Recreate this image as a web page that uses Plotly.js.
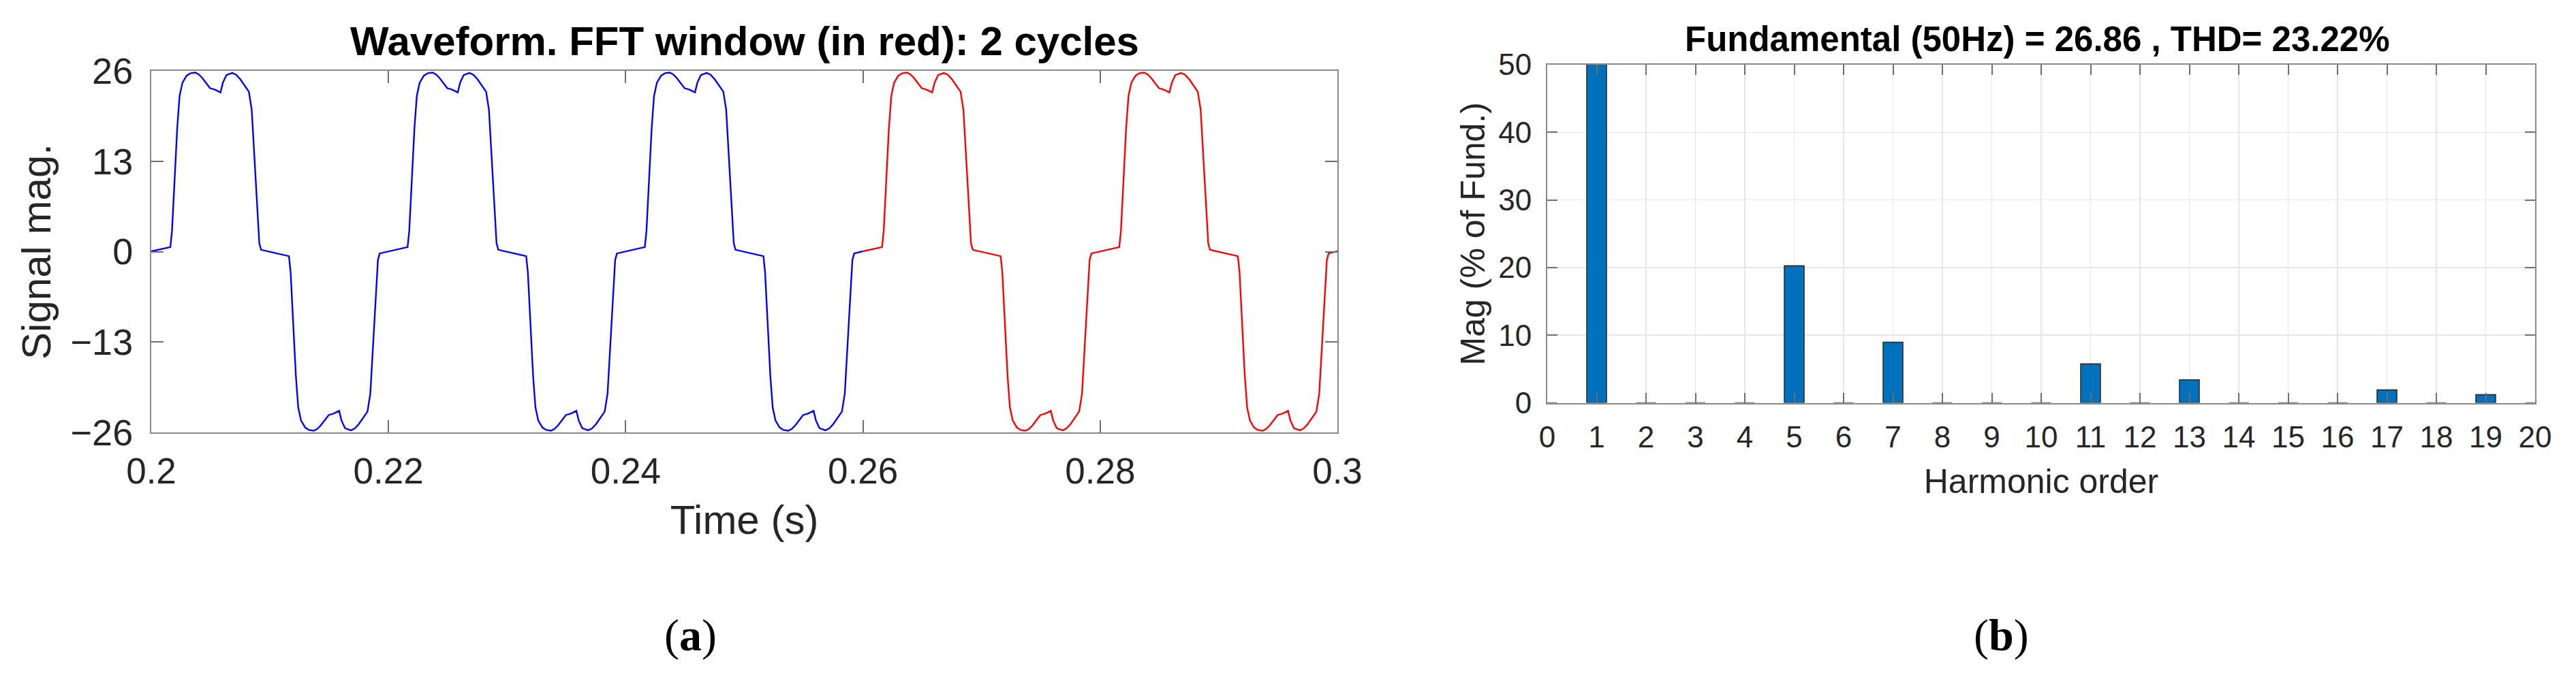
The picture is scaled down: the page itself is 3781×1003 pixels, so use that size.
<!DOCTYPE html>
<html>
<head>
<meta charset="utf-8">
<script src="https://cdn.plot.ly/plotly-3.0.1.min.js"></script>
<style>
html,body{margin:0;padding:0;background:#ffffff;}
#chart{width:3781px;height:1003px;}
</style>
</head>
<body>
<div id="chart"></div>
<script>
// ---- Waveform: one 50 Hz cycle (ms from cycle start, value) ----
const cycleMs  = [0, 1.61, 1.75, 1.96, 2.19, 2.39, 2.63, 2.98, 3.30, 3.71, 4.00, 4.29, 4.96, 5.37, 5.84, 6.04, 6.34, 6.83, 7.15, 7.50, 8.23, 8.47, 8.67, 8.88, 9.11, 9.26,
                  10.0, 11.61, 11.75, 11.96, 12.19, 12.39, 12.63, 12.98, 13.30, 13.71, 14.00, 14.29, 14.96, 15.37, 15.84, 16.04, 16.34, 16.83, 17.15, 17.50, 18.23, 18.47, 18.67, 18.88, 19.11, 19.26];
const cycleVal = [0.05, 0.65, 2.97, 9.95, 17.8, 22.4, 24.3, 25.3, 25.65, 25.75, 25.5, 25.0, 23.5, 23.3, 22.9, 24.3, 25.4, 25.7, 25.45, 24.8, 23.0, 20.4, 14.3, 7.8, 1.2, 0.26,
                  -0.05, -0.65, -2.97, -9.95, -17.8, -22.4, -24.3, -25.3, -25.65, -25.75, -25.5, -25.0, -23.5, -23.3, -22.9, -24.3, -25.4, -25.7, -25.45, -24.8, -23.0, -20.4, -14.3, -7.8, -1.2, -0.26];
const blueCycleStarts = [0.20, 0.22, 0.24];   // cycles outside the FFT window
const redCycleStarts  = [0.26, 0.28];         // FFT window: 2 cycles
const blueEnd = 0.26;
const redEnd  = 0.30;

const timeTicks = [0.2, 0.22, 0.24, 0.26, 0.28, 0.3];
const timeTickText = ["0.2", "0.22", "0.24", "0.26", "0.28", "0.3"];
const signalTicks = [-26, -13, 0, 13, 26];

// ---- FFT spectrum (% of fundamental) ----
const harmonicOrder = [0, 1, 2, 3, 4, 5, 6, 7, 8, 9, 10, 11, 12, 13, 14, 15, 16, 17, 18, 19, 20];
const harmonicMag   = [0, 100, 0, 0, 0, 20.25, 0, 8.95, 0, 0, 0, 5.75, 0, 3.4, 0, 0, 0, 1.9, 0, 1.2, 0];
const magTicks = [0, 10, 20, 30, 40, 50];

const leftTitle  = "Waveform. FFT window (in red): 2 cycles";
const rightTitle = "Fundamental (50Hz) = 26.86 , THD= 23.22%";

function buildWave(starts, endT) {
  const xs = [], ys = [];
  starts.forEach(function (s) {
    for (let i = 0; i < cycleMs.length; i++) {
      xs.push(s + cycleMs[i] / 1000);
      ys.push(cycleVal[i]);
    }
  });
  xs.push(endT);
  ys.push(cycleVal[0]);
  return {x: xs, y: ys};
}

const blue = buildWave(blueCycleStarts, blueEnd);
const red  = buildWave(redCycleStarts, redEnd);

const W = 3781, H = 1003;
const px = v => v / W;
const py = v => (H - v) / H;

const sans = "Liberation Sans, Arial, Helvetica, sans-serif";
const tickColor = "#262626";
const axisLine = "#8a8a8a";

const traces = [
  {type: "scatter", mode: "lines", x: blue.x, y: blue.y, xaxis: "x", yaxis: "y",
   line: {color: "#0000ff", width: 2.4}, hoverinfo: "skip", showlegend: false},
  {type: "scatter", mode: "lines", x: red.x, y: red.y, xaxis: "x", yaxis: "y",
   line: {color: "#ff0000", width: 2.4}, hoverinfo: "skip", showlegend: false},
  {type: "bar", x: harmonicOrder, y: harmonicMag, xaxis: "x2", yaxis: "y2", width: 0.4,
   marker: {color: "#0072BD", line: {color: "#2e2e2e", width: 1.6}}, showlegend: false}
];

const commonAxis = {
  showline: true, linecolor: axisLine, linewidth: 2, mirror: "ticks",
  ticks: "inside", tickcolor: "#6e6e6e", tickwidth: 2,
  zeroline: false, automargin: false
};

const layout = {
  width: W, height: H,
  margin: {l: 0, r: 0, t: 0, b: 0},
  paper_bgcolor: "#ffffff", plot_bgcolor: "#ffffff",
  showlegend: false,
  bargap: 0,
  font: {family: sans, color: tickColor},
  xaxis: Object.assign({}, commonAxis, {
    domain: [px(222), px(1963)], anchor: "y",
    range: [0.2, 0.3], tickvals: timeTicks, ticktext: timeTickText,
    ticklen: 18, showgrid: false,
    tickfont: {family: sans, size: 53, color: tickColor}, ticklabelstandoff: 9,
    title: {text: "Time (s)", font: {family: sans, size: 60, color: tickColor}, standoff: 22}
  }),
  yaxis: Object.assign({}, commonAxis, {
    domain: [py(635), py(104)], anchor: "x",
    range: [-26, 26], tickvals: signalTicks,
    ticklen: 18, showgrid: false,
    tickfont: {family: sans, size: 54, color: tickColor}, ticklabelstandoff: 14,
    title: {text: "Signal mag.", font: {family: sans, size: 60, color: tickColor}, standoff: 10}
  }),
  xaxis2: Object.assign({}, commonAxis, {
    domain: [px(2271), px(3721)], anchor: "y2",
    range: [0, 20], tickmode: "array", tickvals: harmonicOrder,
    ticklen: 15, showgrid: true, gridcolor: "#e6e6e6", gridwidth: 1.5,
    tickfont: {family: sans, size: 44, color: tickColor}, ticklabelstandoff: 11,
    title: {text: "Harmonic order", font: {family: sans, size: 50, color: tickColor}, standoff: 24}
  }),
  yaxis2: Object.assign({}, commonAxis, {
    domain: [py(591.5), py(95)], anchor: "x2",
    range: [0, 50], tickvals: magTicks,
    ticklen: 15, showgrid: true, gridcolor: "#e6e6e6", gridwidth: 1.5,
    tickfont: {family: sans, size: 44, color: tickColor}, ticklabelstandoff: 12,
    title: {text: "Mag (% of Fund.)", font: {family: sans, size: 50, color: tickColor}, standoff: 4}
  }),
  annotations: [
    {text: "<b>" + leftTitle + "</b>", xref: "paper", yref: "paper", x: px(1092.5), y: py(61),
     xanchor: "center", yanchor: "middle", showarrow: false,
     font: {family: sans, size: 60, color: "#000000"}},
    {text: "<b>" + rightTitle + "</b>", xref: "paper", yref: "paper", x: px(2990), y: py(57.5),
     xanchor: "center", yanchor: "middle", showarrow: false,
     font: {family: sans, size: 51, color: "#000000"}},
    {text: "(<b>a</b>)", xref: "paper", yref: "paper", x: px(1013), y: py(933),
     xanchor: "center", yanchor: "middle", showarrow: false,
     font: {family: "Liberation Serif, DejaVu Serif, serif", size: 66, color: "#000000"}},
    {text: "(<b>b</b>)", xref: "paper", yref: "paper", x: px(2937), y: py(933),
     xanchor: "center", yanchor: "middle", showarrow: false,
     font: {family: "Liberation Serif, DejaVu Serif, serif", size: 66, color: "#000000"}}
  ]
};

Plotly.newPlot("chart", traces, layout, {staticPlot: true, displayModeBar: false});
</script>
</body>
</html>
